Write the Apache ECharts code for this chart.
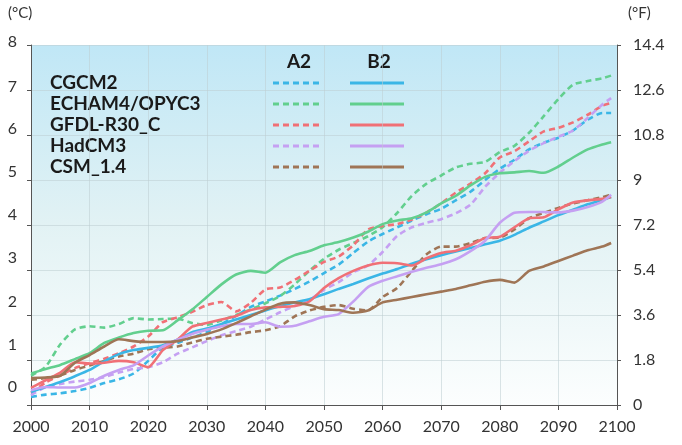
<!DOCTYPE html>
<html>
<head>
<meta charset="utf-8">
<script src="https://cdn.jsdelivr.net/npm/echarts@6/dist/echarts.min.js"></script>
<style>
html,body{margin:0;padding:0;background:#fff;}
#chart{width:682px;height:445px;}
</style>
</head>
<body>
<div id="chart"></div>
<script>
const years = [2000, 2002.5, 2005, 2007.5, 2010, 2012.5, 2015, 2017.5, 2020, 2022.5, 2025, 2027.5, 2030, 2032.5, 2035, 2037.5, 2040, 2042.5, 2045, 2047.5, 2050, 2052.5, 2055, 2057.5, 2060, 2062.5, 2065, 2067.5, 2070, 2072.5, 2075, 2077.5, 2080, 2082.5, 2085, 2087.5, 2090, 2092.5, 2095, 2097.5, 2099];

const models = ['CGCM2', 'ECHAM4/OPYC3', 'GFDL-R30_C', 'HadCM3', 'CSM_1.4'];
const scenarios = ['A2', 'B2'];

const cgcm2A2 = [0.18, 0.23, 0.26, 0.31, 0.38, 0.49, 0.57, 0.70, 0.98, 1.28, 1.38, 1.50, 1.62, 1.80, 1.98, 2.18, 2.30, 2.43, 2.58, 2.74, 2.93, 3.12, 3.38, 3.63, 3.80, 3.95, 4.10, 4.24, 4.36, 4.55, 4.74, 5.00, 5.25, 5.45, 5.68, 5.83, 5.94, 6.10, 6.34, 6.49, 6.49];
const cgcm2B2 = [0.29, 0.40, 0.51, 0.64, 0.78, 0.97, 1.13, 1.22, 1.27, 1.33, 1.45, 1.62, 1.70, 1.80, 1.90, 2.00, 2.10, 2.20, 2.28, 2.35, 2.46, 2.58, 2.69, 2.81, 2.92, 3.02, 3.14, 3.24, 3.33, 3.41, 3.49, 3.57, 3.65, 3.78, 3.94, 4.08, 4.22, 4.34, 4.46, 4.56, 4.62];
const echamA2 = [0.65, 0.85, 1.35, 1.68, 1.75, 1.72, 1.80, 1.93, 1.90, 1.91, 1.92, 1.82, 1.78, 1.88, 2.00, 2.12, 2.26, 2.42, 2.68, 2.98, 3.25, 3.45, 3.60, 3.75, 3.95, 4.27, 4.65, 4.92, 5.10, 5.28, 5.36, 5.40, 5.62, 5.76, 6.05, 6.42, 6.80, 7.12, 7.20, 7.26, 7.32];
const echamB2 = [0.70, 0.80, 0.89, 1.02, 1.15, 1.38, 1.50, 1.60, 1.65, 1.66, 1.88, 2.12, 2.40, 2.68, 2.90, 2.98, 2.94, 3.17, 3.33, 3.42, 3.55, 3.62, 3.72, 3.85, 4.02, 4.10, 4.15, 4.28, 4.48, 4.65, 4.88, 5.07, 5.15, 5.17, 5.20, 5.16, 5.30, 5.50, 5.68, 5.79, 5.84];
const gfdlA2 = [0.27, 0.50, 0.66, 0.82, 0.93, 1.03, 1.15, 1.30, 1.52, 1.84, 1.95, 2.07, 2.22, 2.29, 2.08, 2.27, 2.57, 2.61, 2.78, 2.98, 3.18, 3.30, 3.55, 3.90, 3.98, 4.02, 4.12, 4.28, 4.48, 4.72, 4.92, 5.15, 5.50, 5.64, 5.86, 6.08, 6.16, 6.28, 6.45, 6.65, 6.71];
const gfdlB2 = [0.38, 0.55, 0.72, 0.95, 0.92, 0.94, 0.98, 0.95, 0.84, 1.22, 1.45, 1.74, 1.82, 1.90, 1.98, 2.11, 2.17, 2.18, 2.20, 2.30, 2.60, 2.82, 2.98, 3.10, 3.16, 3.15, 3.10, 3.26, 3.38, 3.43, 3.55, 3.71, 3.74, 3.95, 4.15, 4.17, 4.35, 4.50, 4.55, 4.58, 4.62];
const hadA2 = [0.22, 0.40, 0.47, 0.52, 0.56, 0.62, 0.72, 0.80, 0.84, 0.95, 1.14, 1.28, 1.42, 1.55, 1.64, 1.74, 1.90, 2.06, 2.20, 2.33, 2.56, 2.73, 2.95, 3.10, 3.40, 3.76, 3.95, 4.05, 4.13, 4.26, 4.45, 4.85, 5.16, 5.42, 5.65, 5.82, 5.96, 6.10, 6.38, 6.68, 6.82];
const hadB2 = [0.33, 0.40, 0.39, 0.39, 0.49, 0.65, 0.78, 0.88, 1.10, 1.30, 1.45, 1.58, 1.67, 1.75, 1.80, 1.80, 1.84, 1.74, 1.76, 1.86, 1.96, 2.02, 2.30, 2.62, 2.76, 2.86, 2.96, 3.05, 3.13, 3.24, 3.42, 3.65, 4.05, 4.27, 4.29, 4.29, 4.28, 4.32, 4.40, 4.52, 4.67];
const csmA2 = [0.56, 0.60, 0.66, 0.78, 0.88, 0.98, 1.08, 1.14, 1.24, 1.27, 1.30, 1.39, 1.47, 1.52, 1.56, 1.62, 1.66, 1.75, 1.97, 2.10, 2.18, 2.22, 2.14, 2.10, 2.40, 2.60, 2.98, 3.35, 3.52, 3.52, 3.60, 3.71, 3.72, 3.90, 4.15, 4.27, 4.38, 4.48, 4.55, 4.62, 4.67];
const csmB2 = [0.60, 0.61, 0.65, 0.94, 1.11, 1.30, 1.46, 1.42, 1.40, 1.40, 1.42, 1.50, 1.58, 1.68, 1.82, 1.97, 2.12, 2.25, 2.28, 2.22, 2.13, 2.11, 2.05, 2.10, 2.28, 2.34, 2.40, 2.46, 2.52, 2.58, 2.66, 2.74, 2.78, 2.72, 2.98, 3.08, 3.20, 3.32, 3.44, 3.52, 3.60];

const celsiusTicks = [0, 1, 2, 3, 4, 5, 6, 7, 8];
const fahrenheitMax = 14.4;
const fahrenheitStep = 1.8;

const colors = ['#3ab6e6', '#62cf8e', '#f07076', '#c5a0f2', '#9f7556'];
const valuesA2 = [cgcm2A2, echamA2, gfdlA2, hadA2, csmA2];
const valuesB2 = [cgcm2B2, echamB2, gfdlB2, hadB2, csmB2];

const FONT = 'Lato, "Open Sans", sans-serif';
const DASH = [6, 4];

function makeSeries(name, vals, color, dashed) {
  return {
    name: name,
    type: 'line',
    data: years.map((y, i) => [y, vals[i]]),
    symbol: 'none',
    smooth: 0.2,
    lineStyle: { color: color, width: 2.6, type: dashed ? DASH : 'solid', cap: 'butt' },
    itemStyle: { color: color },
    emphasis: { disabled: true },
    z: dashed ? 3 : 4
  };
}

const series = [];
models.forEach((m, i) => {
  series.push(makeSeries(m + ' A2', valuesA2[i], colors[i], true));
  series.push(makeSeries(m + ' B2', valuesB2[i], colors[i], false));
});

// left label offsets (label sits slightly above its tick in the original)
const labelLift = {0: 18, 1: 15, 2: 13, 3: 12, 4: 10, 5: 8, 6: 6, 7: 3, 8: 3};
const rich = {};
celsiusTicks.forEach(v => {
  rich['c' + v] = { fontFamily: FONT, fontSize: 16, color: '#333', padding: [0, 0, labelLift[v] * 2, 0] };
});

const graphics = [
  { type: 'text', left: 8, top: 6, style: { text: '(°C)', font: '15px ' + FONT, fill: '#333' } },
  { type: 'text', left: 628, top: 6, style: { text: '(°F)', font: '15px ' + FONT, fill: '#333' } },
  { type: 'text', x: 299, y: 62, style: { text: 'A2', font: 'bold 19px ' + FONT, fill: '#1a1a1a', align: 'center', verticalAlign: 'middle' } },
  { type: 'text', x: 379, y: 62, style: { text: 'B2', font: 'bold 19px ' + FONT, fill: '#1a1a1a', align: 'center', verticalAlign: 'middle' } }
];
models.forEach((m, i) => {
  const yRow = 83 + i * 21;
  graphics.push({ type: 'text', x: 50, y: yRow, style: { text: m, font: 'bold 19px ' + FONT, fill: '#1a1a1a', verticalAlign: 'middle' } });
  graphics.push({ type: 'line', shape: { x1: 273, y1: yRow, x2: 323, y2: yRow }, style: { stroke: colors[i], lineWidth: 3, lineDash: DASH } });
  graphics.push({ type: 'line', shape: { x1: 350, y1: yRow, x2: 404, y2: yRow }, style: { stroke: colors[i], lineWidth: 3 } });
});

const chart = echarts.init(document.getElementById('chart'), null, { renderer: 'canvas' });
chart.setOption({
  animation: false,
  backgroundColor: '#ffffff',
  color: colors,
  grid: {
    left: 31, right: 65, top: 45, bottom: 40,
    show: true,
    borderWidth: 0,
    backgroundColor: new echarts.graphic.LinearGradient(0, 0, 0, 1, [
      { offset: 0, color: '#c0e7f6' },
      { offset: 0.5, color: '#e2f2f4' },
      { offset: 1, color: '#fcfefe' }
    ])
  },
  xAxis: {
    type: 'value', min: 2000, max: 2100, interval: 10,
    axisLine: { show: true, lineStyle: { color: '#555', width: 1 } },
    axisTick: { show: true, length: 5, lineStyle: { color: '#555' } },
    axisLabel: { fontFamily: FONT, fontSize: 16, color: '#333', margin: 14, formatter: v => String(v) },
    splitLine: { show: true, lineStyle: { color: 'rgba(190,205,210,0.55)', width: 1 } }
  },
  yAxis: [
    {
      type: 'value', min: 0, max: 8, interval: 1, position: 'left',
      axisLine: { show: true, lineStyle: { color: '#555', width: 1 } },
      axisTick: { show: true, length: 4, lineStyle: { color: '#555' } },
      axisLabel: { margin: 14, formatter: v => '{c' + v + '|' + v + '}', rich: rich },
      splitLine: { show: true, lineStyle: { color: 'rgba(190,205,210,0.55)', width: 1 } }
    },
    {
      type: 'value', min: 0, max: fahrenheitMax, interval: fahrenheitStep, position: 'right',
      axisLine: { show: true, lineStyle: { color: '#555', width: 1 } },
      axisTick: { show: true, length: 4, lineStyle: { color: '#555' } },
      axisLabel: { fontFamily: FONT, fontSize: 16, color: '#333', margin: 16, formatter: v => String(+v.toFixed(1)) },
      splitLine: { show: false }
    }
  ],
  graphic: graphics,
  series: series
});
</script>
</body>
</html>
